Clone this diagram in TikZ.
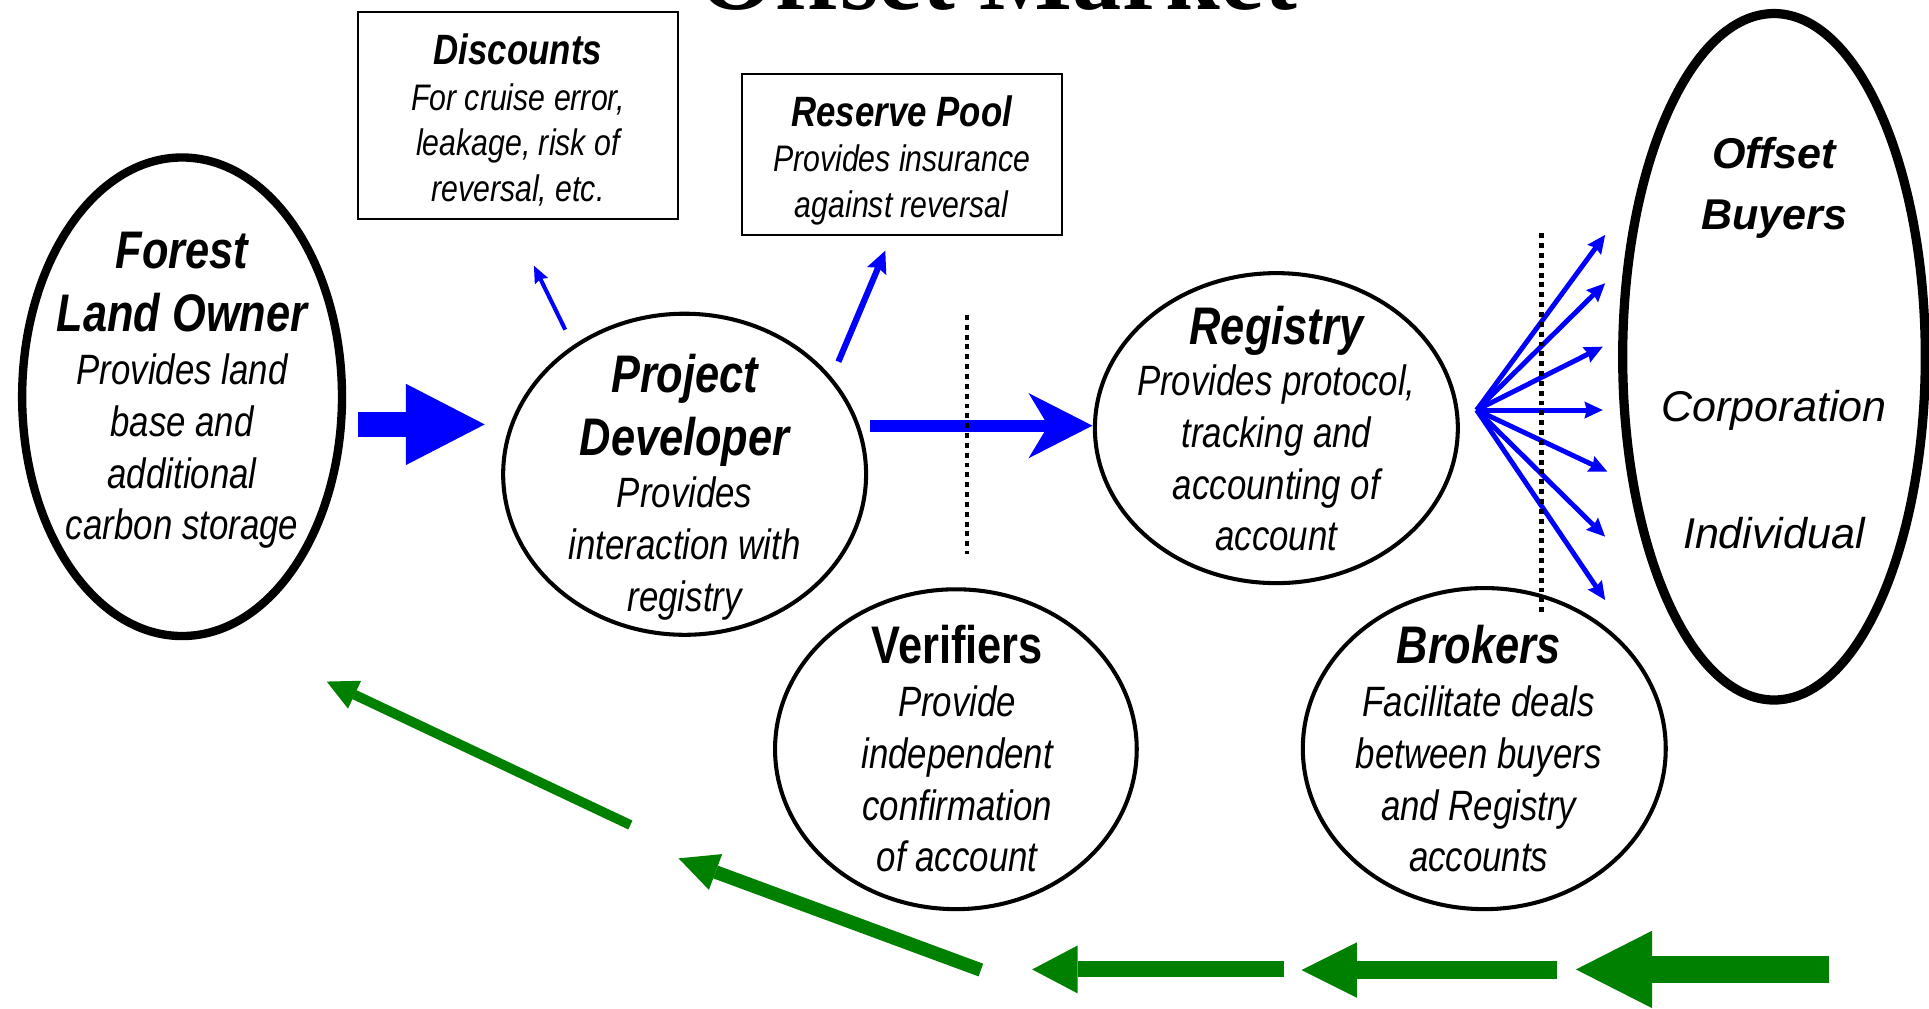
\documentclass[tikz,border=0pt]{standalone}
\usepackage{fontspec}
\setmainfont{Liberation Sans}
\newfontfamily\nar[FakeStretch=0.82]{Liberation Sans}
\newfontfamily\wideface{Liberation Sans}
\newfontfamily\serifttl{Liberation Serif}
\usetikzlibrary{shapes.geometric,arrows.meta}
\definecolor{pblue}{RGB}{0,0,255}
\definecolor{pgreen}{RGB}{0,128,0}
\newcommand\mytitle[1]{{\fontsize{43}{43}\selectfont\bfseries #1}}
\newcommand\mytitleup[1]{{\fontsize{43}{43}\selectfont\bfseries\upshape #1}}
\newcommand\boxtitle[1]{{\fontsize{34.5}{34.5}\selectfont\bfseries #1}}
\tikzset{
  every node/.style={inner sep=0pt, outer sep=0pt},
  oval/.style={draw, ellipse, line width=3.3pt},
  bigoval/.style={draw, ellipse, line width=6.8pt},
  notebox/.style={draw, rectangle, line width=1.4pt},
  body/.style={align=center, anchor=north, font={\nar\fontsize{34.5}{42}\selectfont\itshape\lineskiplimit=-200pt}},
  boxbody/.style={align=center, anchor=north, font={\nar\fontsize{30}{37}\selectfont\itshape\lineskiplimit=-200pt}},
  buyertitle/.style={align=center, anchor=north, font={\wideface\fontsize{35}{49}\selectfont\bfseries\itshape\lineskiplimit=-200pt}},
  buyertext/.style={anchor=base, font={\wideface\fontsize{35}{42}\selectfont\itshape}},
  bluebig/.style={draw=pblue, line width=21pt, -{Triangle[length=64pt,width=66pt,line width=0pt]}},
  bluemid/.style={draw=pblue, line width=10pt, -{Stealth[length=52pt,width=53pt,inset=16pt,line width=0pt]}},
  bluethin/.style={draw=pblue, line width=3.3pt, -{Stealth[length=14pt,width=12pt,inset=2pt,line width=0pt]}},
  bluemed/.style={draw=pblue, line width=5pt, -{Stealth[length=18pt,width=17pt,inset=3pt,line width=0pt]}},
  fan/.style={draw=pblue, line width=4pt, -{Stealth[length=15pt,width=14pt,inset=2pt,line width=0pt]}},
  greenarrow/.style={draw=pgreen},
  dots/.style={draw=black, line width=3.8pt, dash pattern=on 4pt off 4pt},
}
\begin{document}
\begin{tikzpicture}[x=1pt,y=-1pt]
\useasboundingbox (0,0) rectangle (1568,820);
\clip (0,0) rectangle (1568,820);
\fill[white] (0,0) rectangle (1568,820);

% cut-off title
\node[anchor=base, font={\serifttl\fontsize{80}{80}\selectfont\bfseries}] (title) at (811,8) {Offset Market};

% boxes
\node[notebox, minimum width=260pt, minimum height=168pt] (disc) at (421,94) {};
\node[notebox, minimum width=260pt, minimum height=131pt] (res) at (733,125.5) {};
\node[boxbody] (disctext) at (421,27.7) {\boxtitle{Discounts}\\For cruise error,\\leakage, risk of\\reversal, etc.};
\node[boxbody] (restext) at (733,77.8) {\boxtitle{Reserve Pool}\\Provides insurance\\against reversal};

% ellipses
\node[bigoval, minimum width=260pt, minimum height=389pt] (forest) at (148,322.5) {};
\node[oval, minimum width=295pt, minimum height=261pt] (pd) at (556.5,385.5) {};
\node[oval, minimum width=295pt, minimum height=252pt] (reg) at (1037.5,348) {};
\node[oval, minimum width=294pt, minimum height=260pt] (ver) at (777,609) {};
\node[oval, minimum width=295pt, minimum height=261pt] (brk) at (1206.5,608.5) {};
\node[draw, ellipse, line width=7.5pt, minimum width=246pt, minimum height=558pt] (ob) at (1442,290) {};

% texts
\node[body] (forestext) at (148,188.7) {\mytitle{Forest}\\[9.5pt]\mytitle{Land Owner}\\[1pt]Provides land\\base and\\additional\\carbon storage};
\node[body] (pdtext) at (556.5,287.7) {\mytitle{Project}\\[9pt]\mytitle{Developer}\\[1pt]Provides\\interaction with\\registry};
\node[body] (regtext) at (1037.5,248.6) {\mytitle{Registry}\\Provides protocol,\\tracking and\\accounting of\\account};
\node[body] (vertext) at (778,508.4) {\mytitleup{Verifiers}\\[1pt]Provide\\independent\\confirmation\\of account};
\node[body] (brktext) at (1202,508.4) {\mytitle{Brokers}\\[1pt]Facilitate deals\\between buyers\\and Registry\\accounts};
\node[buyertitle] (obtitle) at (1442,112) {Offset\\Buyers};
\node[buyertext] (obcorp) at (1442,343) {Corporation};
\node[buyertext] (obind) at (1442,446) {Individual};

% blue arrows
\draw[bluebig] ([shift={(13,22.5)}]forest.east) -- ([shift={(-15,-40.5)}]pd.west);
\draw[bluemid] ([shift={(3,-39.5)}]pd.east) -- ([shift={(-2,-2)}]reg.west);
\draw[bluethin] ([shift={(-97,13)}]pd.north) -- ([shift={(13,38)}]disc.south);
\draw[bluemed] ([shift={(125,-91.5)}]pd.center) -- ([shift={(-13.4,12.8)}]res.south);
\foreach \dx/\dy in {-14.3/-99, -14.3/-59.7, -16.2/-8.2, -16.2/43.3, -12.5/93.4, -14.3/146.2, -14.3/197.7}
  \draw[fan] ([shift={(15.3,-14.7)}]reg.east) -- ([shift={(\dx,\dy)}]ob.west);

% green arrows
\coordinate (g1s) at (512.4,670.6); \coordinate (g1e) at (265.6,554);
\coordinate (g2s) at (797.3,788.5); \coordinate (g2e) at (551.6,697.7);
\coordinate (g3s) at (1044,788); \coordinate (g3e) at (839,788);
\coordinate (g4s) at (1265.7,788.5); \coordinate (g4e) at (1058,788.5);
\coordinate (g5s) at (1487,788); \coordinate (g5e) at (1281,788);
\draw[greenarrow, line width=8pt, -{Triangle[length=25pt,width=25pt,line width=0pt]}] (g1s) -- (g1e);
\draw[greenarrow, line width=11pt, -{Triangle[length=32pt,width=31pt,line width=0pt]}] (g2s) -- (g2e);
\draw[greenarrow, line width=13pt, -{Triangle[length=37pt,width=39pt,line width=0pt]}] (g3s) -- (g3e);
\draw[greenarrow, line width=15pt, -{Triangle[length=45pt,width=45pt,line width=0pt]}] (g4s) -- (g4e);
\draw[greenarrow, line width=22pt, -{Triangle[length=62pt,width=63pt,line width=0pt]}] (g5s) -- (g5e);

% dotted separators
\draw[dots] (786,256) -- (786,450);
\draw[dots] (1253.2,189.6) -- (1253.2,497.2);
\end{tikzpicture}
\end{document}
